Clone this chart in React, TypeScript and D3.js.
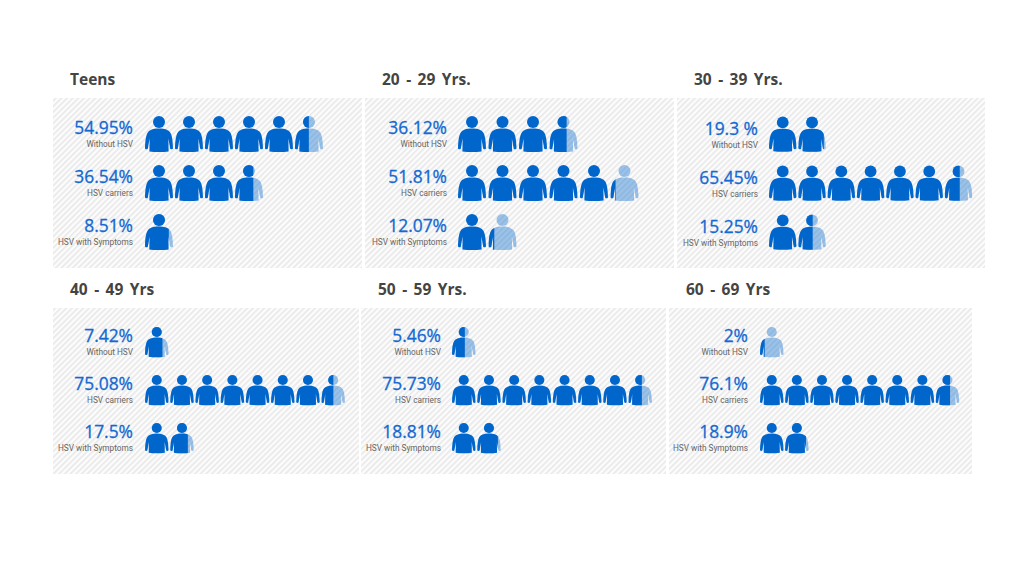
import { useEffect, useRef } from "react";
import * as d3 from "d3";

const groups = ["Teens", "20 - 29 Yrs.", "30 - 39 Yrs.", "40 - 49 Yrs", "50 - 59 Yrs.", "60 - 69 Yrs"];
const seriesNames = ["Without HSV", "HSV carriers", "HSV with Symptoms"];
const withoutHsv = [54.95, 36.12, 19.3, 7.42, 5.46, 2];
const carriers = [36.54, 51.81, 65.45, 75.08, 75.73, 76.1];
const symptoms = [8.51, 12.07, 15.25, 17.5, 18.81, 18.9];
// one label differs from the plain format in the source picture
const labelOverrides: Record<string, string> = { "19.3": "19.3 %" };

const BLUE = "#0066cc";
const ICON_W = 28;
const ICON_H = 36;
const personBody =
  "M0,32.5 C0.2,25 0.8,20 2.6,16.8 C4.4,14 8,12.6 14,12.6 C20,12.6 23.6,14 25.4,16.8 C27.2,20 27.8,25 28,32.5 C27.2,33.6 26,33.6 25.2,32.8 L23.4,22.5 L23.6,35.4 C18,36.3 10,36.3 4.4,35.4 L4.6,22.5 L2.8,32.8 C2,33.6 0.8,33.6 0,32.5 Z";

const layouts = [
  { x: 53, w: 309, y: 98, h: 170, iconDx: 92, textDx: 80, step: 30, scale: 1, rowY: 116, rowStep: 49 },
  { x: 365, w: 309, y: 98, h: 170, iconDx: 93, textDx: 82, step: 30.5, scale: 1, rowY: 116, rowStep: 49 },
  { x: 677, w: 308, y: 98, h: 170, iconDx: 92, textDx: 81, step: 29.3, scale: 0.98, rowY: 116.5, rowStep: 49 },
  { x: 53, w: 306, y: 308, h: 166, iconDx: 92, textDx: 80, step: 25.2, scale: 0.84, rowY: 327, rowStep: 48 },
  { x: 361, w: 305, y: 308, h: 166, iconDx: 91, textDx: 80, step: 25.2, scale: 0.84, rowY: 327, rowStep: 48 },
  { x: 669, w: 303, y: 308, h: 166, iconDx: 91, textDx: 79, step: 25.1, scale: 0.84, rowY: 327, rowStep: 48 },
];

const App = () => {
  const svgRef = useRef<SVGSVGElement | null>(null);

  useEffect(() => {
    if (!svgRef.current) return;
    const svg = d3.select(svgRef.current);
    svg.selectAll("*").remove();

    const defs = svg.append("defs");
    const hatch = defs
      .append("pattern")
      .attr("id", "hatch")
      .attr("patternUnits", "userSpaceOnUse")
      .attr("width", 4)
      .attr("height", 4)
      .attr("patternTransform", "rotate(45)");
    hatch.append("rect").attr("width", 4).attr("height", 4).attr("fill", "#fcfcfc");
    hatch.append("rect").attr("width", 1.6).attr("height", 4).attr("fill", "#e8e8e8");

    const fraction = d3.scaleLinear().domain([0, 1]).range([0, ICON_W]);

    groups.forEach((name, g) => {
      const l = layouts[g];
      const panel = svg.append("g");

      panel
        .append("rect")
        .attr("x", l.x)
        .attr("y", l.y)
        .attr("width", l.w)
        .attr("height", l.h)
        .attr("fill", "url(#hatch)");

      panel
        .append("text")
        .attr("x", l.x + 17)
        .attr("y", l.y - 13)
        .attr("font-family", "Open Sans")
        .attr("font-size", 15.5)
        .attr("font-weight", 700)
        .attr("word-spacing", 2.4)
        .attr("fill", "#444444")
        .text(name);

      const values = [withoutHsv[g], carriers[g], symptoms[g]];
      const iconLeft = l.x + l.iconDx;
      const textRight = l.x + l.textDx;
      const y = d3
        .scaleLinear()
        .domain([0, 1])
        .range([l.rowY, l.rowY + l.rowStep]);
      const x = d3
        .scaleLinear()
        .domain([0, 1])
        .range([iconLeft, iconLeft + l.step]);

      values.forEach((v, r) => {
        const rowTop = y(r);
        const midText = rowTop + (l.scale > 0.9 ? 18 : 15);
        const label = labelOverrides[String(v)] ?? `${v}%`;

        panel
          .append("text")
          .attr("x", textRight)
          .attr("y", midText)
          .attr("text-anchor", "end")
          .attr("font-family", "Open Sans")
          .attr("font-size", 17.4)
          .attr("fill", "#1469d2")
          .attr("stroke", "#1469d2")
          .attr("stroke-width", 0.3)
          .text(label);

        panel
          .append("text")
          .attr("x", textRight)
          .attr("y", midText + 13)
          .attr("text-anchor", "end")
          .attr("font-family", "Roboto")
          .attr("font-size", 8.25)
          .attr("fill", "#666666")
          .text(seriesNames[r]);

        const tens = d3.range(Math.ceil(v / 10));
        tens.forEach((i) => {
          const filled = Math.min(1, v / 10 - i);
          const icon = panel
            .append("g")
            .attr("transform", `translate(${x(i)},${rowTop}) scale(${l.scale})`);

          const drawPerson = (sel: d3.Selection<any, any, any, any>) => {
            sel.append("circle").attr("cx", ICON_W / 2).attr("cy", 6).attr("r", 6);
            sel.append("path").attr("d", personBody);
          };

          if (filled < 1) {
            icon.append("g").attr("fill", BLUE).attr("opacity", 0.38).call(drawPerson);
            const id = `clip-${g}-${r}-${i}`;
            defs
              .append("clipPath")
              .attr("id", id)
              .append("rect")
              .attr("x", 0)
              .attr("y", 0)
              .attr("width", fraction(filled))
              .attr("height", ICON_H + 1);
            icon
              .append("g")
              .attr("clip-path", `url(#${id})`)
              .attr("fill", BLUE)
              .call(drawPerson);
          } else {
            icon.append("g").attr("fill", BLUE).call(drawPerson);
          }
        });
      });
    });
  }, []);

  return (
    <svg
      ref={svgRef}
      width={1024}
      height={576}
      style={{ position: "absolute", left: 0, top: 0, background: "#ffffff" }}
    />
  );
};

export default App;
